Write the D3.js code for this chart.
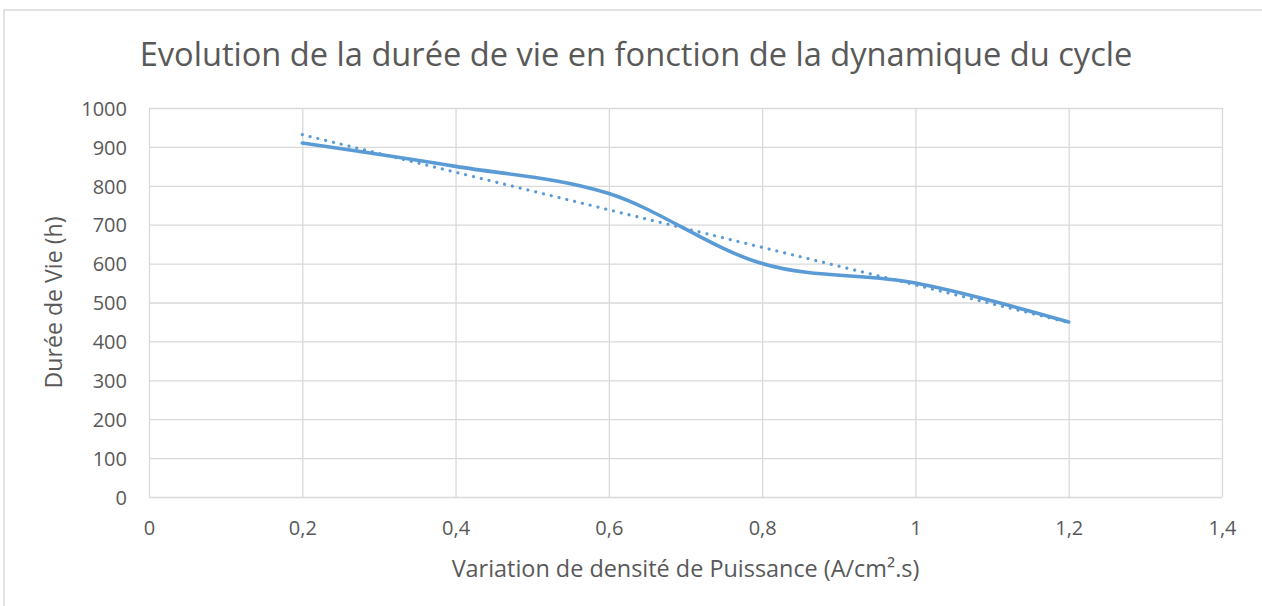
<!DOCTYPE html>
<html lang="fr">
<head>
<meta charset="utf-8">
<script src="https://cdn.jsdelivr.net/npm/d3@7"></script>
<style>
  html, body { margin: 0; padding: 0; background: #fff; }
  svg { display: block; }
  text { font-family: "Open Sans", "Noto Sans", sans-serif; fill: #595959; }
</style>
</head>
<body>
<svg id="chart" width="1262" height="606"></svg>
<script>
// Lifetime (h) measured for each power-density variation (A/cm².s)
const variation = [0.2, 0.4, 0.6, 0.8, 1.0, 1.2];
const dureeVie = [910, 850, 780, 600, 550, 450];

const xTicks = [0, 0.2, 0.4, 0.6, 0.8, 1.0, 1.2, 1.4];
const yTicks = [0, 100, 200, 300, 400, 500, 600, 700, 800, 900, 1000];

const titre = "Evolution de la durée de vie en fonction de la dynamique du cycle";
const titreX = "Variation de densité de Puissance (A/cm².s)";
const titreY = "Durée de Vie (h)";

const svg = d3.select("#chart");
const W = 1262, H = 606;
const plot = { left: 149, right: 1222, top: 108, bottom: 497 };
const blue = "#5B9BD5";
const grid = "#D9D9D9";

// Outer chart frame (extends past the right and bottom edges)
svg.append("rect")
  .attr("x", 4).attr("y", 10)
  .attr("width", W + 20).attr("height", H + 20)
  .attr("fill", "#fff")
  .attr("stroke", grid).attr("stroke-width", 1.5);

const x = d3.scaleLinear().domain([0, 1.4]).range([plot.left, plot.right]);
const y = d3.scaleLinear().domain([0, 1000]).range([plot.bottom, plot.top]);

const fr = d3.formatLocale({ decimal: ",", thousands: " ", grouping: [3], currency: ["", " €"] });
const fmtX = v => fr.format("~g")(+v.toFixed(1));

// Gridlines
svg.append("g")
  .attr("transform", `translate(0,${plot.bottom})`)
  .call(d3.axisBottom(x).tickValues(xTicks).tickSize(-(plot.bottom - plot.top)).tickFormat(""))
  .call(g => g.select(".domain").remove())
  .call(g => g.selectAll("line").attr("stroke", grid).attr("stroke-width", 1.3));

svg.append("g")
  .attr("transform", `translate(${plot.left},0)`)
  .call(d3.axisLeft(y).tickValues(yTicks).tickSize(-(plot.right - plot.left)).tickFormat(""))
  .call(g => g.select(".domain").remove())
  .call(g => g.selectAll("line").attr("stroke", grid).attr("stroke-width", 1.3));

// Tick labels
svg.append("g")
  .attr("transform", `translate(0,${plot.bottom})`)
  .call(d3.axisBottom(x).tickValues(xTicks).tickSize(0).tickPadding(0).tickFormat(fmtX))
  .call(g => g.select(".domain").remove())
  .call(g => g.selectAll("text")
    .attr("y", 38).attr("dy", 0)
    .style("font-size", "20px")
    .style("font-family", "\"Open Sans\", sans-serif")
    .attr("fill", "#595959"));

svg.append("g")
  .attr("transform", `translate(${plot.left},0)`)
  .call(d3.axisLeft(y).tickValues(yTicks).tickSize(0).tickPadding(0).tickFormat(d3.format("d")))
  .call(g => g.select(".domain").remove())
  .call(g => g.selectAll("text")
    .attr("x", -22).attr("dy", "0.36em")
    .style("font-size", "20px")
    .style("font-family", "\"Open Sans\", sans-serif")
    .attr("fill", "#595959"));

// Size a text element so it spans a given width
function fit(sel, width) {
  let size = parseFloat(sel.style("font-size"));
  const len = sel.node().getComputedTextLength();
  sel.style("font-size", (size * width / len).toFixed(2) + "px");
}

svg.append("text")
  .attr("x", 636).attr("y", 66)
  .attr("text-anchor", "middle")
  .style("font-size", "31px")
  .text(titre)
  .call(fit, 993);

svg.append("text")
  .attr("x", (plot.left + plot.right) / 2).attr("y", 577)
  .attr("text-anchor", "middle")
  .style("font-size", "20px")
  .text(titreX)
  .call(fit, 468);

svg.append("text")
  .attr("transform", `translate(62,${(plot.top + plot.bottom) / 2}) rotate(-90)`)
  .attr("text-anchor", "middle")
  .style("font-size", "20px")
  .text(titreY)
  .call(fit, 172);

const pts = variation.map((v, i) => [v, dureeVie[i]]);

// Linear trend line (least squares)
const mx = d3.mean(variation), my = d3.mean(dureeVie);
const slope = d3.sum(pts, p => (p[0] - mx) * (p[1] - my)) / d3.sum(pts, p => (p[0] - mx) ** 2);
const intercept = my - slope * mx;
const xMin = d3.min(variation), xMax = d3.max(variation);
const trend = [[xMin, intercept + slope * xMin], [xMax, intercept + slope * xMax]];

svg.append("path")
  .datum(trend)
  .attr("d", d3.line().x(d => x(d[0])).y(d => y(d[1])))
  .attr("fill", "none")
  .attr("stroke", blue)
  .attr("stroke-width", 3.2)
  .attr("stroke-linecap", "round")
  .attr("stroke-dasharray", "0.01 8");

// Smoothed data series
svg.append("path")
  .datum(pts)
  .attr("d", d3.line().x(d => x(d[0])).y(d => y(d[1])).curve(d3.curveCatmullRom.alpha(0)))
  .attr("fill", "none")
  .attr("stroke", blue)
  .attr("stroke-width", 3.6)
  .attr("stroke-linecap", "round")
  .attr("stroke-linejoin", "round");
</script>
</body>
</html>
